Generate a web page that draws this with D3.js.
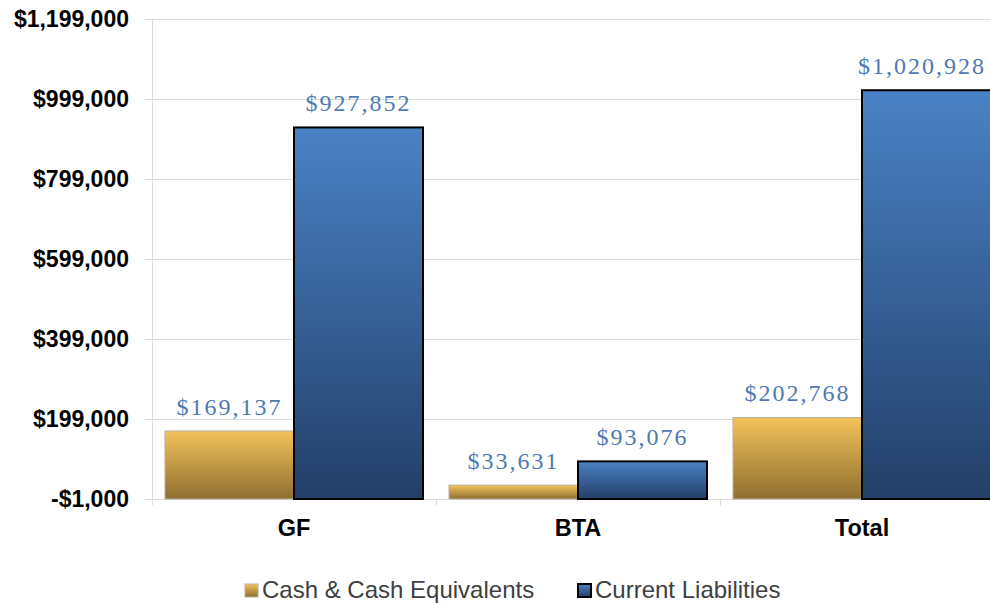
<!DOCTYPE html>
<html><head><meta charset="utf-8">
<script src="https://cdn.jsdelivr.net/npm/d3@7"></script>
<style>body{margin:0;background:#fff}svg{display:block}</style>
</head><body>
<svg id="c" width="990" height="603"></svg>
<script>
const categories = ["GF", "BTA", "Total"];
const seriesNames = ["Cash & Cash Equivalents", "Current Liabilities"];
const cashValues = [169137, 33631, 202768];
const liabilityValues = [927852, 93076, 1020928];
const yTicks = [-1000, 199000, 399000, 599000, 799000, 999000, 1199000];

(function () {
const svg = d3.select("#c");
const W = 990;
const plotLeft = 152, plotTop = 19, plotBottom = 499;
const bandW = 284;
const x = d3.scaleBand().domain(categories).range([plotLeft, plotLeft + bandW * 3]).paddingInner(0).paddingOuter(0);
const y = d3.scaleLinear().domain([-1000, 1199000]).range([plotBottom, plotTop]);
const pad = 13, bw = (bandW - 2 * pad) / 2;

const defs = svg.append("defs");
const g1 = defs.append("linearGradient").attr("id", "gCash").attr("x1", 0).attr("y1", 0).attr("x2", 0).attr("y2", 1);
g1.append("stop").attr("offset", "0%").attr("stop-color", "#f2c25a");
g1.append("stop").attr("offset", "100%").attr("stop-color", "#8f6e30");
const g2 = defs.append("linearGradient").attr("id", "gLiab").attr("x1", 0).attr("y1", 0).attr("x2", 0).attr("y2", 1);
g2.append("stop").attr("offset", "0%").attr("stop-color", "#4a82c6");
g2.append("stop").attr("offset", "100%").attr("stop-color", "#233f68");

svg.append("g").selectAll("line").data(yTicks).join("line")
  .attr("x1", plotLeft - 7).attr("x2", W).attr("y1", d => Math.round(y(d)) + 0.5).attr("y2", d => Math.round(y(d)) + 0.5)
  .attr("stroke", "#dcdcdc").attr("stroke-width", 1);
svg.append("line").attr("x1", plotLeft + 0.5).attr("x2", plotLeft + 0.5).attr("y1", plotTop).attr("y2", plotBottom + 6)
  .attr("stroke", "#dcdcdc");
svg.append("g").selectAll("line").data(categories).join("line")
  .attr("x1", d => Math.round(x(d) + bandW) + 0.5).attr("x2", d => Math.round(x(d) + bandW) + 0.5)
  .attr("y1", plotBottom).attr("y2", plotBottom + 7).attr("stroke", "#dcdcdc");

svg.append("g").selectAll("text").data(yTicks).join("text")
  .attr("x", 129).attr("y", d => y(d)).attr("dy", "0.36em").attr("text-anchor", "end")
  .attr("font-family", "Liberation Sans, Arial, sans-serif").attr("font-weight", "bold").attr("font-size", 23)
  .attr("fill", "#000")
  .text(d => (d < 0 ? "-$" : "$") + d3.format(",")(Math.abs(d)));

svg.append("g").selectAll("text").data(categories).join("text")
  .attr("x", d => x(d) + bandW / 2).attr("y", 536).attr("text-anchor", "middle")
  .attr("font-family", "Liberation Sans, Arial, sans-serif").attr("font-weight", "bold").attr("font-size", 23.5)
  .attr("fill", "#000").text(d => d);

const bars = [];
categories.forEach((c, i) => [cashValues[i], liabilityValues[i]].forEach((v, j) => bars.push({c, j, v})));

svg.append("g").selectAll("rect").data(bars).join("rect")
  .attr("x", d => x(d.c) + pad + d.j * bw)
  .attr("y", d => y(d.v))
  .attr("width", bw)
  .attr("height", d => y(-1000) - y(d.v))
  .attr("fill", d => d.j === 0 ? "url(#gCash)" : "url(#gLiab)")
  .attr("stroke", d => d.j === 0 ? "#b5b0a5" : "#000")
  .attr("stroke-width", d => d.j === 0 ? 1 : 2);

svg.append("g").selectAll("text").data(bars).join("text")
  .attr("font-family", "Liberation Serif, Times New Roman, serif")
  .attr("font-size", 24).attr("fill", "#4f79b3")
  .attr("x", d => x(d.c) + pad + d.j * bw + bw / 2).attr("y", d => y(d.v) - 16)
  .attr("text-anchor", "middle").attr("letter-spacing", 2)
  .text(d => "$" + d3.format(",")(d.v))
  .each(function () {
    const b = this.getBBox();
    const over = b.x + b.width - 986;
    if (over > 0) d3.select(this).attr("x", +d3.select(this).attr("x") - over);
  });

const leg = svg.append("g").attr("font-family", "Liberation Sans, Arial, sans-serif").attr("font-size", 24).attr("fill", "#404040");
const legItems = [{n: seriesNames[0], x: 245, fill: "url(#gCash)", stroke: "#b5b0a5"}, {n: seriesNames[1], x: 578, fill: "url(#gLiab)", stroke: "#000"}];
legItems.forEach(it => {
  leg.append("rect").attr("x", it.x).attr("y", 584).attr("width", 13).attr("height", 13)
    .attr("fill", it.fill).attr("stroke", it.stroke).attr("stroke-width", it.stroke === "#000" ? 2 : 1);
  leg.append("text").attr("x", it.x + 17).attr("y", 598).text(it.n);
});
})();
</script>
</body></html>
